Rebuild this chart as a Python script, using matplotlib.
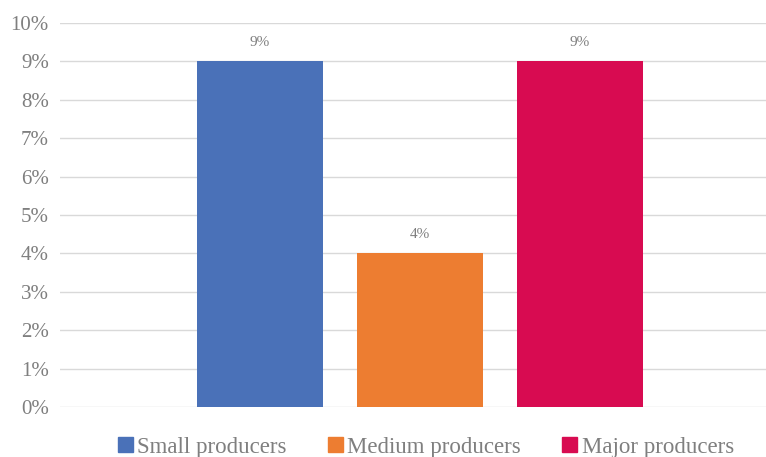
import matplotlib.pyplot as plt
from matplotlib.ticker import FuncFormatter

categories = ["Small producers", "Medium producers", "Major producers"]
shares = [9, 4, 9]
colors = ["#4A71B8", "#ED7D31", "#D80B51"]

plt.rcParams["font.family"] = ["Liberation Serif", "DejaVu Serif"]
text_color = "#7F7F7F"

fig = plt.figure(figsize=(7.66, 4.57), dpi=100)
ax = fig.add_axes([60 / 766, 1 - 407 / 457, 706 / 766, 384 / 457])

x = list(range(len(categories)))
bars = ax.bar(x, shares, width=0.7875, color=colors, label=categories, zorder=3)
for rect, v in zip(bars, shares):
    ax.text(rect.get_x() + rect.get_width() / 2, v + 0.5, f"{v}%",
            ha="center", va="center", fontsize=11, color=text_color)

ax.set_xlim(-1.25, 3.1625)
ax.set_ylim(0, 10)
ax.set_yticks(range(0, 11))
ax.yaxis.set_major_formatter(FuncFormatter(lambda v, _: f"{int(v)}%"))
ax.tick_params(axis="y", length=0, pad=8, labelsize=15, labelcolor=text_color)
ax.set_xticks([])
ax.grid(axis="y", color="#D9D9D9", linewidth=1, zorder=0)
for s in ax.spines.values():
    s.set_visible(False)

handles = [plt.Rectangle((0, 0), 1, 1, color=c) for c in colors]
fig.legend(handles, categories, loc="center", bbox_to_anchor=(426 / 766, 1 - 447 / 457),
           ncol=3, frameon=False, fontsize=16.5, labelcolor=text_color,
           handlelength=0.65, handleheight=0.65, handletextpad=0.2, columnspacing=1.8)

fig.savefig("out.png", dpi=100)
